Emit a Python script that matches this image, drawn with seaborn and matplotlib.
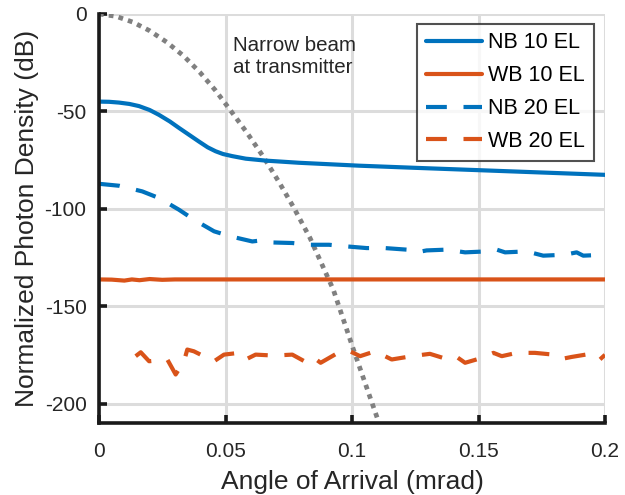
import matplotlib
matplotlib.use("Agg")
import matplotlib.pyplot as plt
import seaborn as sns
import pandas as pd

# Angle of arrival (mrad) and normalized photon density (dB) per configuration
nb10_x = [0, 0.004, 0.0079, 0.012, 0.0158, 0.02, 0.0237, 0.028, 0.0316, 0.036, 0.0395,
          0.043, 0.0461, 0.049, 0.0527, 0.058, 0.0659, 0.079, 0.1028, 0.125, 0.15, 0.175, 0.2]
nb10_y = [-45.0, -45.1, -45.5, -46.2, -47.3, -49.3, -51.8, -55.2, -58.5, -62.4, -65.5,
          -68.5, -70.5, -71.9, -73.0, -74.3, -75.3, -76.4, -77.9, -79.0, -80.2, -81.4, -82.6]

wb10_x = [0, 0.005, 0.01, 0.013, 0.016, 0.02, 0.025, 0.03, 0.04, 0.06, 0.1, 0.15, 0.2]
wb10_y = [-136.3, -136.4, -136.9, -136.3, -136.7, -136.1, -136.5, -136.3, -136.3,
          -136.3, -136.3, -136.3, -136.3]

nb20_x = [0, 0.0079, 0.0171, 0.0237, 0.0316, 0.0375, 0.0455, 0.052, 0.0606, 0.0646,
          0.0679, 0.0764, 0.083, 0.0909, 0.0975, 0.1058, 0.113, 0.1216, 0.1255, 0.1295,
          0.1374, 0.1447, 0.1532, 0.1572, 0.1605, 0.169, 0.1756, 0.1842, 0.1888, 0.1914, 0.2]
nb20_y = [-87.2, -88.2, -91.1, -94.5, -100.5, -105.6, -111.6, -114.2, -116.8, -116.2,
          -117.3, -117.6, -118.5, -118.5, -119.3, -120.2, -120.2, -121.0, -122.4, -121.4,
          -121.0, -122.4, -121.9, -121.0, -122.4, -121.9, -124.1, -123.6, -122.4, -124.1, -123.6]

wb20_x = [0.0145, 0.0165, 0.0198, 0.027, 0.0303, 0.0336, 0.0349, 0.0375, 0.0428, 0.0455,
          0.0494, 0.0553, 0.058, 0.0619, 0.0692, 0.0764, 0.0823, 0.085, 0.0876, 0.0955,
          0.0992, 0.1032, 0.1091, 0.1157, 0.1236, 0.1308, 0.138, 0.1414, 0.1447, 0.1513,
          0.1559, 0.1592, 0.1651, 0.1723, 0.1796, 0.1829, 0.1868, 0.1947, 0.198, 0.2]
wb20_y = [-175.7, -173.7, -178.3, -177.4, -185.1, -178.3, -172.3, -173.2, -176.6, -178.3,
          -174.9, -174.0, -177.4, -174.9, -175.4, -174.9, -179.1, -176.6, -179.1, -173.2,
          -173.2, -175.7, -173.2, -177.4, -175.7, -174.5, -177.4, -176.1, -179.1, -176.6,
          -174.0, -175.7, -174.0, -174.0, -174.9, -177.1, -176.1, -174.4, -177.4, -175.0]

# Transmitter beam profile (narrow beam)
tx_x = [0, 0.0067, 0.0134, 0.02, 0.0268, 0.0334, 0.0399, 0.046, 0.0518, 0.0585, 0.0649,
        0.071, 0.0768, 0.0834, 0.0926, 0.1005, 0.1104]
tx_y = [0.0, -1.2, -4.2, -8.6, -14.5, -21.5, -30.0, -39.2, -49.2, -61.0, -73.2,
        -86.0, -99.0, -115.0, -141.5, -172.0, -209.0]

series_labels = ["NB 10 EL", "WB 10 EL", "NB 20 EL", "WB 20 EL"]
annotation = "Narrow beam\nat transmitter"
x_ticks = [0, 0.05, 0.1, 0.15, 0.2]
x_tick_labels = ["0", "0.05", "0.1", "0.15", "0.2"]
y_ticks = [-200, -150, -100, -50, 0]

sns.set_style("ticks")
plt.rcParams["font.family"] = ["Liberation Sans", "DejaVu Sans"]
plt.rcParams["axes.unicode_minus"] = False

BLUE = "#0072BD"
ORANGE = "#D95319"
TEXT = "#262626"

fig = plt.figure(figsize=(6.25, 4.95), dpi=100)
ax = fig.add_axes([0.1584, 0.1455, 0.8096, 0.8263])

dash = (0, (5, 4))
specs = [
    (nb10_x, nb10_y, BLUE, "-"),
    (wb10_x, wb10_y, ORANGE, "-"),
    (nb20_x, nb20_y, BLUE, dash),
    (wb20_x, wb20_y, ORANGE, dash),
]
for (xs, ys, col, ls), lab in zip(specs, series_labels):
    df = pd.DataFrame({"angle": xs, "density": ys})
    sns.lineplot(data=df, x="angle", y="density", ax=ax, color=col, linestyle=ls,
                 linewidth=3, label=lab, sort=False, estimator=None, zorder=3)

tx = pd.DataFrame({"angle": tx_x, "density": tx_y})
sns.lineplot(data=tx, x="angle", y="density", ax=ax, color="#808080",
             linestyle=(0, (1, 1.1)), linewidth=3.4, sort=False, estimator=None,
             legend=False, zorder=2)

ax.text(0.053, -11.5, annotation, fontsize=14.8, color=TEXT, va="top", ha="left",
        linespacing=1.15)

ax.set_xlim(0, 0.2)
ax.set_ylim(-210, 0)
ax.set_xticks(x_ticks)
ax.set_xticklabels(x_tick_labels)
ax.set_yticks(y_ticks)
ax.grid(True, color="#dcdcdc", linewidth=2.2, zorder=0)
ax.set_axisbelow(True)

for side in ("top", "right"):
    ax.spines[side].set_visible(False)
for side in ("left", "bottom"):
    ax.spines[side].set_linewidth(2.6)
    ax.spines[side].set_color("#1a1a1a")
    ax.spines[side].set_zorder(4)

ax.tick_params(direction="in", length=6, width=2.6, color="#1a1a1a",
               labelsize=15, labelcolor=TEXT)
ax.tick_params(axis="x", pad=14)
ax.tick_params(axis="y", pad=9)
ax.set_xlabel("Angle of Arrival (mrad)", fontsize=19, color=TEXT, labelpad=6)
ax.set_ylabel("Normalized Photon Density (dB)", fontsize=19, color=TEXT, labelpad=4)

leg = ax.legend(loc="upper right", bbox_to_anchor=(0.978, 0.976), fontsize=15.5,
                handlelength=2.6, handletextpad=0.3, borderpad=0.4,
                labelspacing=0.55, frameon=True, fancybox=False, borderaxespad=0)
leg.get_frame().set_edgecolor("#262626")
leg.get_frame().set_linewidth(1.5)
for t in leg.get_texts():
    t.set_color("#000000")

fig.savefig("out.png", dpi=100)
